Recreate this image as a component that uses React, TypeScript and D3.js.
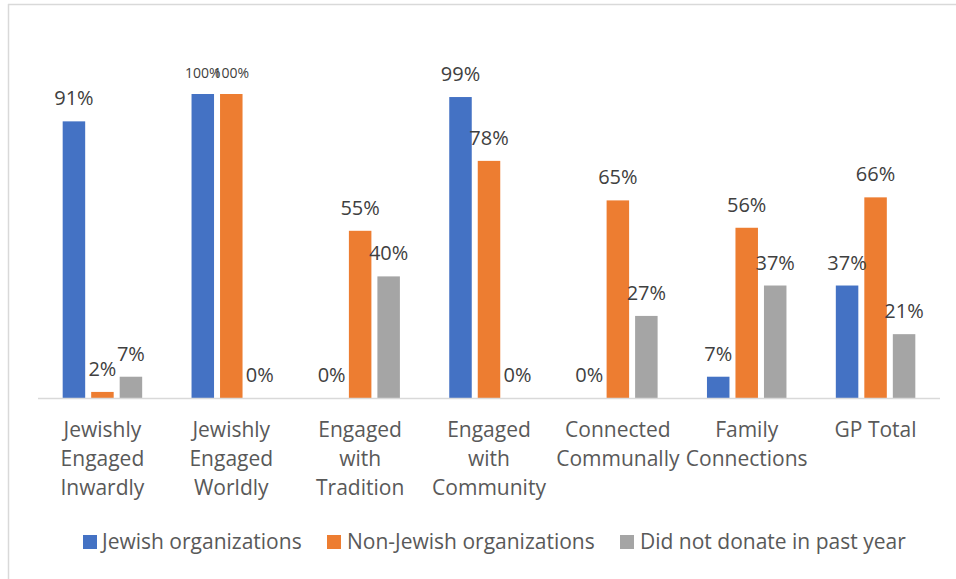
import React from "react";
import * as d3 from "d3";

const categories: string[][] = [
  ["Jewishly", "Engaged", "Inwardly"],
  ["Jewishly", "Engaged", "Worldly"],
  ["Engaged", "with", "Tradition"],
  ["Engaged", "with", "Community"],
  ["Connected", "Communally"],
  ["Family", "Connections"],
  ["GP Total"],
];
const seriesNames = ["Jewish organizations", "Non-Jewish organizations", "Did not donate in past year"];
const jewishOrgs = [0.91, 1.0, 0.0, 0.99, 0.0, 0.07, 0.37];
const nonJewishOrgs = [0.02, 1.0, 0.55, 0.78, 0.65, 0.56, 0.66];
const didNotDonate = [0.07, 0.0, 0.4, 0.0, 0.27, 0.37, 0.21];
const seriesValues = [jewishOrgs, nonJewishOrgs, didNotDonate];
const colors = ["#4472C4", "#ED7D31", "#A5A5A5"];

const W = 956;
const H = 579;
const FONT = "'Open Sans', 'Noto Sans', sans-serif";

export default function App() {
  const catKeys = categories.map((c) => c.join(" "));
  const x = d3.scaleBand<string>().domain(catKeys).range([38, 940]).padding(0);
  const groupW = 79.5;
  const inner = d3
    .scaleBand<string>()
    .domain(seriesNames)
    .range([0, groupW])
    .paddingInner(6 / 28.5)
    .paddingOuter(0);
  const y = d3.scaleLinear().domain([0, 1]).range([398, 94]);
  const offset = (x.bandwidth() - groupW) / 2;
  const fmt = d3.format(".0%");

  const legendItems = [
    { sx: 83, tx: 102 },
    { sx: 327, tx: 347 },
    { sx: 620, tx: 640 },
  ];

  return (
    <div style={{ position: "absolute", left: 0, top: 0 }}>
      <svg width={W} height={H} style={{ display: "block", background: "#fff" }}>
        <rect x={0} y={0} width={W} height={H} fill="#fff" />
        {/* frame */}
        <line x1={8.5} x2={8.5} y1={4} y2={H} stroke="#d9d9d9" strokeWidth={1.5} />
        <line x1={8} x2={W} y1={4.5} y2={4.5} stroke="#d9d9d9" strokeWidth={1.5} />

        {/* bars */}
        {seriesValues.map((vals, si) =>
          vals.map((v, ci) => {
            const bx = (x(catKeys[ci]) as number) + offset + (inner(seriesNames[si]) as number);
            return (
              <rect
                key={`b${si}-${ci}`}
                x={bx}
                y={y(v)}
                width={inner.bandwidth()}
                height={y(0) - y(v)}
                fill={colors[si]}
              />
            );
          })
        )}

        {/* axis line */}
        <line x1={38} x2={940} y1={398.5} y2={398.5} stroke="#d9d9d9" strokeWidth={1.5} />

        {/* data labels */}
        {seriesValues.map((vals, si) =>
          vals.map((v, ci) => {
            const cx =
              (x(catKeys[ci]) as number) + offset + (inner(seriesNames[si]) as number) + inner.bandwidth() / 2;
            const big = v >= 1;
            return (
              <text
                key={`l${si}-${ci}`}
                x={cx}
                y={y(v) - 16}
                textAnchor="middle"
                fontFamily={FONT}
                fontSize={big ? 14 : 20}
                fill="#404040"
              >
                {fmt(v)}
              </text>
            );
          })
        )}

        {/* category labels */}
        {categories.map((lines, ci) => {
          const cx = (x(catKeys[ci]) as number) + x.bandwidth() / 2;
          return (
            <text key={`c${ci}`} textAnchor="middle" fontFamily={FONT} fontSize={21} fill="#595959">
              {lines.map((ln, li) => (
                <tspan key={li} x={cx} y={437 + li * 29}>
                  {ln}
                </tspan>
              ))}
            </text>
          );
        })}

        {/* legend */}
        {seriesNames.map((name, si) => (
          <g key={`lg${si}`}>
            <rect x={legendItems[si].sx} y={535} width={14} height={14} fill={colors[si]} />
            <text x={legendItems[si].tx} y={549} fontFamily={FONT} fontSize={21} fill="#595959">
              {name}
            </text>
          </g>
        ))}
      </svg>
    </div>
  );
}
